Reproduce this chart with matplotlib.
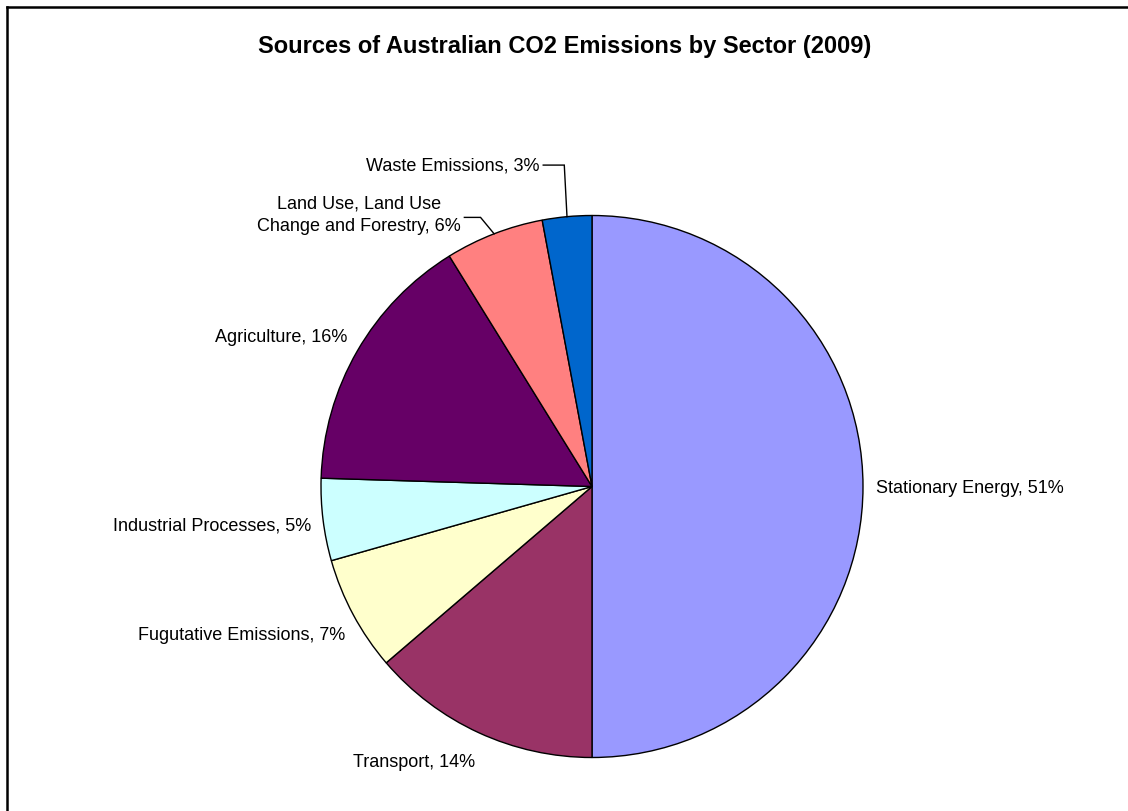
import numpy as np
import matplotlib.pyplot as plt
from matplotlib.lines import Line2D

plt.rcParams['font.family'] = ['Liberation Sans', 'DejaVu Sans']

# data (percent of total CO2 emissions, 2009)
sectors = ["Stationary Energy", "Transport", "Fugutative Emissions",
           "Industrial Processes", "Agriculture",
           "Land Use, Land Use\nChange and Forestry", "Waste Emissions"]
shares = [51, 14, 7, 5, 16, 6, 3]
colors = ["#9999FF", "#993366", "#FFFFCC", "#CCFFFF", "#660066", "#FF8080", "#0066CC"]

# label anchors in pie units (radius = 1), alignment, leader line height
label_pos = [(1.048, -0.009), (-0.657, -1.020), (-0.911, -0.548), (-1.037, -0.146),
             (-0.904, 0.548), (-0.483, 1.000), (-0.192, 1.183)]
label_ha = ["left", "center", "right", "right", "right", "right", "right"]
leader_y = [None, None, None, None, None, 0.993, 1.186]

W, H = 1128, 811
fig = plt.figure(figsize=(W / 100, H / 100), dpi=100)
ax = fig.add_axes([0, 0, 1, 1])
ax.axis('off')

cx, cy, r = 592, 486.5, 271  # pie centre and radius in pixels

wedges, _ = ax.pie(shares, colors=colors, startangle=90, counterclock=False,
                   radius=1.0, wedgeprops=dict(edgecolor='black', linewidth=1.0))
ax.set_xlim(-cx / r, (W - cx) / r)
ax.set_ylim(-(H - cy) / r, cy / r)
ax.set_aspect('auto')

for w, name, v, (lx, ly), ha, ly_lead in zip(wedges, sectors, shares, label_pos, label_ha, leader_y):
    ax.text(lx, ly, f"{name}, {v}%", ha=ha, va='center', multialignment='center',
            fontsize=13, color='black', linespacing=1.4)
    if ly_lead is not None:
        mid = np.deg2rad((w.theta1 + w.theta2) / 2)
        ex, ey = np.cos(mid), np.sin(mid)
        elbow_x = ex - 0.05 if ex < -0.2 else ex - 0.01
        ax.plot([lx + 0.012, elbow_x, ex], [ly_lead, ly_lead, ey],
                color='black', lw=1.0, solid_joinstyle='miter')

fig.text(565 / W, 1 - 47 / H, "Sources of Australian CO2 Emissions by Sector (2009)",
         ha='center', va='center', fontsize=17, fontweight='bold')

# chart border (left and top edges visible)
fig.add_artist(Line2D([6.5 / W, 6.5 / W], [0, 1 - 6.5 / H], transform=fig.transFigure,
                      color='black', lw=1.8))
fig.add_artist(Line2D([6.5 / W, 1], [1 - 6.5 / H, 1 - 6.5 / H], transform=fig.transFigure,
                      color='black', lw=1.8))

fig.savefig("out.png", dpi=100, facecolor='white')
